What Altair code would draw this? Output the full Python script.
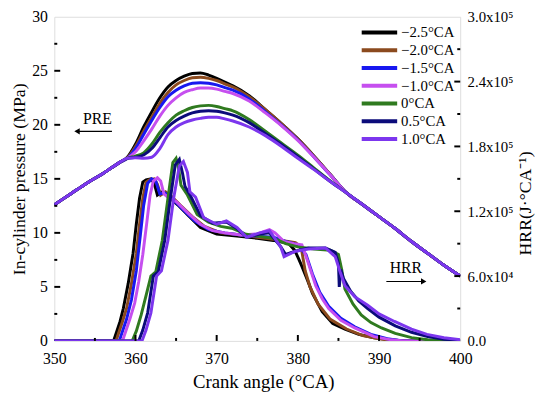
import altair as alt
import pandas as pd

FONT = "Liberation Serif"

SERIES = ["−2.5°CA", "−2.0°CA", "−1.5°CA", "−1.0°CA", "0°CA", "0.5°CA", "1.0°CA"]
COLORS = ["#000000", "#8B4A1E", "#1818F0", "#C64FEF", "#2F7A1F", "#0B0B7A", "#7C36EE"]

# ---- In-cylinder pressure (MPa) on a common crank-angle grid ----
P_CA = [350, 352, 354, 356, 357, 358, 359, 360, 361, 362, 363, 364, 365, 366, 367, 368, 369,
        370, 371, 372, 374, 376, 378, 380, 382, 384, 386, 388, 390, 392, 394, 396, 398, 400]
p_m25 = [12.6, 13.6, 14.6, 15.5, 16.0, 16.5, 17.0, 18.2, 19.8, 21.2, 22.5, 23.5, 24.1, 24.5, 24.75, 24.8, 24.6,
         24.3, 23.95, 23.6, 22.7, 21.4, 20.1, 18.7, 17.1, 15.4, 13.7, 12.6, 11.5, 10.4, 9.2, 8.1, 7.0, 6.0]
p_m20 = [12.6, 13.6, 14.6, 15.5, 16.0, 16.5, 16.95, 18.0, 19.4, 20.7, 22.0, 23.0, 23.7, 24.1, 24.35, 24.4, 24.3,
         24.1, 23.8, 23.5, 22.6, 21.4, 20.1, 18.7, 17.1, 15.4, 13.7, 12.6, 11.5, 10.4, 9.2, 8.1, 7.0, 6.0]
p_m15 = [12.6, 13.6, 14.6, 15.5, 16.0, 16.5, 16.9, 17.8, 19.1, 20.4, 21.6, 22.6, 23.2, 23.6, 23.85, 23.9, 23.85,
         23.7, 23.45, 23.2, 22.4, 21.2, 19.95, 18.6, 17.0, 15.35, 13.7, 12.6, 11.5, 10.4, 9.2, 8.1, 7.0, 6.0]
p_m10 = [12.6, 13.6, 14.6, 15.5, 16.0, 16.5, 16.9, 17.5, 18.5, 19.6, 20.8, 21.8, 22.5, 23.0, 23.25, 23.4, 23.4,
         23.3, 23.1, 22.9, 22.2, 21.1, 19.9, 18.55, 17.0, 15.35, 13.7, 12.6, 11.5, 10.4, 9.2, 8.1, 7.0, 6.0]
p_00 = [12.6, 13.6, 14.6, 15.5, 16.0, 16.5, 16.9, 17.1, 17.4, 18.2, 19.3, 20.2, 20.9, 21.3, 21.6, 21.75, 21.8,
        21.7, 21.5, 21.3, 20.5, 19.4, 18.3, 17.2, 16.0, 14.8, 13.7, 12.6, 11.5, 10.4, 9.2, 8.1, 7.0, 6.0]
p_p05 = [12.6, 13.6, 14.6, 15.5, 16.0, 16.5, 16.9, 17.0, 17.2, 17.8, 18.8, 19.8, 20.4, 20.8, 21.1, 21.25, 21.3,
         21.25, 21.1, 20.9, 20.2, 19.2, 18.15, 17.05, 15.9, 14.75, 13.7, 12.6, 11.5, 10.4, 9.2, 8.1, 7.0, 6.0]
p_p10 = [12.6, 13.6, 14.6, 15.5, 16.0, 16.5, 16.9, 16.95, 16.9, 17.0, 17.8, 19.1, 19.8, 20.2, 20.45, 20.6, 20.7,
         20.7, 20.55, 20.35, 19.8, 19.0, 18.0, 16.9, 15.85, 14.75, 13.7, 12.6, 11.5, 10.4, 9.2, 8.1, 7.0, 6.0]

# ---- Heat release rate (x10^4 J/°CA), each series on its own crank-angle points ----
h_ca_m25 = [350, 357.3, 357.7, 358.1, 358.5, 359.1, 359.7, 360.1, 360.5, 360.9, 361.3, 361.9, 362.3, 362.7, 363.3,
            364.0, 365.2, 366.5, 368.0, 370.0, 372.5, 375.0, 377.0, 378.9, 379.6, 380.1, 380.5, 381.2, 381.8,
            383.0, 384.3, 385.8, 387.5, 389.4, 391.5, 393.0, 400]
h_m25 = [0, 0, 0.9, 1.8, 3.0, 5.3, 8.1, 10.8, 13.2, 14.7, 14.9, 15.0, 14.6, 13.5, 13.8,
         13.4, 12.6, 11.6, 10.5, 9.9, 9.7, 9.5, 9.3, 9.0, 8.4, 7.6, 6.9, 5.6, 4.4,
         2.7, 1.6, 1.1, 0.6, 0.3, 0.1, 0, 0]
h_ca_m20 = [350, 357.6, 358.0, 358.4, 358.9, 359.5, 360.1, 360.5, 360.9, 361.3, 361.7, 362.3, 362.7, 363.1, 363.7,
            364.4, 365.6, 367.0, 368.5, 370.5, 373.0, 375.0, 377.0, 378.8, 379.7, 380.4, 380.9, 381.5, 382.5,
            384.0, 386.0, 388.0, 390.0, 392.0, 400]
h_m20 = [0, 0, 0.9, 1.8, 3.0, 5.3, 8.1, 10.8, 13.2, 14.7, 14.9, 15.0, 14.5, 13.5, 13.8,
         13.4, 12.5, 11.5, 10.6, 10.0, 9.8, 9.6, 9.4, 9.2, 9.1, 8.7, 6.5, 5.0, 3.4,
         2.0, 1.1, 0.5, 0.2, 0, 0]
h_ca_m15 = [350, 358.0, 358.4, 358.9, 359.5, 360.1, 360.6, 361.0, 361.5, 362.0, 362.5, 363.0, 363.6, 364.5, 365.8,
            367.3, 369.0, 371.0, 373.0, 375.0, 377.0, 378.5, 380.0, 381.0, 381.8, 382.7, 383.8, 385.3, 387.0,
            389.0, 391.0, 393.0, 400]
h_m15 = [0, 0, 0.9, 2.0, 3.8, 6.5, 9.8, 12.5, 14.6, 15.0, 14.8, 13.6, 13.7, 13.2, 12.2,
         11.1, 10.3, 10.0, 9.8, 9.7, 9.6, 9.2, 8.9, 8.0, 6.2, 4.5, 3.2, 2.1, 1.3,
         0.6, 0.2, 0, 0]
h_ca_m10 = [350, 358.4, 358.8, 359.3, 359.9, 360.4, 360.9, 361.4, 361.8, 362.2, 362.7, 363.1, 363.5, 364.0, 365.0,
            366.5, 368.0, 369.5, 371.0, 373.0, 375.0, 376.5, 377.2, 378.3, 379.5, 380.5, 381.2, 382.2, 383.0,
            383.8, 385.3, 387.0, 389.4, 391.5, 393.0, 400]
h_m10 = [0, 0, 0.9, 2.0, 3.5, 5.5, 8.0, 11.0, 13.5, 14.8, 15.1, 14.8, 13.6, 13.3, 12.9,
         11.8, 10.8, 10.2, 10.0, 9.8, 9.9, 10.3, 10.0, 9.2, 9.0, 8.9, 7.4, 5.1, 3.9,
         3.0, 1.9, 1.2, 0.4, 0.1, 0, 0]
h_ca_00 = [350, 359.6, 360.1, 360.7, 361.3, 361.9, 362.5, 363.3, 364.0, 364.6, 365.0, 365.3, 365.6, 366.4, 367.6,
           369.0, 370.5, 372.0, 373.5, 375.0, 377.0, 378.5, 380.0, 382.0, 384.0, 385.0, 385.4, 385.8, 386.8,
           387.8, 389.0, 390.3, 392.0, 394.0, 396.0, 398.0, 400]
h_00 = [0, 0, 0.9, 2.4, 4.2, 6.0, 6.4, 9.3, 13.2, 16.5, 16.9, 16.0, 14.4, 13.5, 11.7,
        11.0, 10.6, 10.4, 9.9, 9.7, 9.5, 9.0, 8.7, 8.5, 8.4, 8.0, 6.6, 4.8, 3.4,
        2.4, 1.7, 1.2, 0.7, 0.3, 0.1, 0, 0]
h_ca_p05 = [350, 360.4, 360.9, 361.5, 362.2, 362.8, 363.6, 364.3, 364.9, 365.4, 365.8, 366.1, 366.8, 368.0, 369.5,
            371.2, 372.5, 373.7, 375.3, 376.5, 377.9, 378.5, 379.7, 381.3, 383.4, 384.6, 385.0, 385.1, 385.3,
            385.6, 386.5, 387.5, 388.6, 390.0, 392.0, 394.0, 396.0, 398.0, 400]
h_p05 = [0, 0, 1.0, 2.6, 6.0, 6.4, 9.3, 13.2, 16.3, 16.8, 15.5, 14.3, 13.4, 11.6, 10.9,
         11.0, 10.4, 9.6, 9.9, 10.0, 8.7, 8.0, 8.3, 8.6, 8.6, 8.2, 7.2, 5.0, 6.6,
         5.8, 4.6, 3.7, 3.0, 2.2, 1.4, 0.8, 0.4, 0.15, 0.05]
h_ca_p10 = [350, 360.8, 361.3, 361.9, 362.6, 363.2, 364.0, 364.7, 365.4, 365.9, 366.2, 366.4, 366.7, 367.4, 368.4,
            370.0, 371.2, 372.5, 373.7, 375.3, 376.5, 377.9, 378.3, 379.7, 381.3, 383.4, 384.6, 385.2, 385.8,
            387.0, 388.6, 390.0, 391.9, 394.0, 395.9, 398.0, 400]
h_p10 = [0, 0, 1.0, 2.6, 6.0, 6.5, 9.3, 13.2, 16.2, 16.6, 16.0, 15.6, 13.8, 13.3, 11.4,
         10.8, 11.1, 10.5, 9.6, 10.0, 10.2, 8.7, 7.8, 8.3, 8.5, 8.6, 7.8, 6.4, 5.1,
         4.1, 3.3, 2.5, 1.8, 1.1, 0.6, 0.3, 0.1]

# ---- axis tick values ----
X_LABELS = [350, 360, 370, 380, 390, 400]
X_MINOR = [355, 365, 375, 385, 395]
X_MAJOR_IN = [360, 370, 380, 390]
P_LABELS = [0, 5, 10, 15, 20, 25, 30]
P_MAJOR_IN = [5, 10, 15, 20, 25]
P_MINOR = [2.5, 7.5, 12.5, 17.5, 22.5, 27.5]
H_LABELS = [0, 6, 12, 18, 24, 30]
H_MAJOR_IN = [6, 12, 18, 24]
H_MINOR = [3, 9, 15, 21, 27]

# ---- annotations (data units) ----
PRE_TEXT = {"x": 355.3, "y": 20.1, "t": "PRE"}
PRE_ARROW = {"x": 357.1, "x2": 352.8, "y": 19.4}
HRR_TEXT = {"x": 393.3, "y": 6.3, "t": "HRR"}
HRR_ARROW = {"x": 390.9, "x2": 395.5, "y": 5.5}

W, H = 412, 329

p_lists = [p_m25, p_m20, p_m15, p_m10, p_00, p_p05, p_p10]
h_cas = [h_ca_m25, h_ca_m20, h_ca_m15, h_ca_m10, h_ca_00, h_ca_p05, h_ca_p10]
h_lists = [h_m25, h_m20, h_m15, h_m10, h_00, h_p05, h_p10]

prows = []
for s, pl in zip(SERIES, p_lists):
    for ca, v in zip(P_CA, pl):
        prows.append({"ca": ca, "v": v, "s": s})
hrows = []
for s, cl, hl in zip(SERIES, h_cas, h_lists):
    for ca, v in zip(cl, hl):
        hrows.append({"ca": ca, "v": v, "s": s})
pdf = pd.DataFrame(prows)
hdf = pd.DataFrame(hrows)

xscale = alt.Scale(domain=[350, 400], nice=False)
xaxis = alt.Axis(values=X_LABELS, ticks=False, domain=False, grid=False, labelPadding=10,
                 labelFlush=False, labelFont=FONT, labelFontSize=16, labelColor="black",
                 title="Crank angle (°CA)", titleFont=FONT, titleFontSize=19, titleX=212,
                 titleFontWeight="normal", titleColor="black", titlePadding=6)


def xenc(field):
    return alt.X(field, type="quantitative", scale=xscale, axis=xaxis)


pscale = alt.Scale(domain=[0, 30], nice=False)
hscale = alt.Scale(domain=[0, 30], nice=False)

color = alt.Color("s:N", scale=alt.Scale(domain=SERIES, range=COLORS), sort=SERIES,
                  legend=alt.Legend(orient="none", legendX=322, legendY=8, title=None,
                                    symbolType="M-3,0H3", symbolStrokeWidth=4, symbolSize=144,
                                    labelFont=FONT, labelFontSize=15, labelColor="black",
                                    labelOffset=14, rowPadding=2, padding=0))

press = alt.Chart(pdf).mark_line(strokeWidth=3, interpolate="monotone", clip=True).encode(
    x=xenc("ca"),
    y=alt.Y("v:Q", scale=pscale,
            axis=alt.Axis(orient="left", values=P_LABELS, ticks=False, domain=False, grid=False,
                          labelPadding=7, labelFont=FONT, labelFontSize=16, labelColor="black",
                          title="In-cylinder pressure (MPa)", titleFont=FONT, titleFontSize=18,
                          titleFontWeight="normal", titleColor="black", titlePadding=3)),
    color=color,
    detail="s:N",
)

hrr = alt.Chart(hdf).mark_line(strokeWidth=3, clip=True).encode(
    x=xenc("ca"),
    y=alt.Y("v:Q", scale=hscale,
            axis=alt.Axis(orient="right", values=H_LABELS, ticks=False, domain=False, grid=False,
                          labelPadding=7, labelFont=FONT, labelFontSize=15, labelColor="black",
                          labelExpr="datum.value == 0 ? '0.0' : datum.value == 6 ? '6.0x10⁴' : "
                                    "datum.value == 12 ? '1.2x10⁵' : datum.value == 18 ? '1.8x10⁵' : "
                                    "datum.value == 24 ? '2.4x10⁵' : '3.0x10⁵'",
                          title="HRR(J·°CA⁻¹)", titleFont=FONT, titleFontSize=18, titleAngle=270,
                          titleY=189, titleFontWeight="normal", titleColor="black", titlePadding=22)),
    color=color,
    detail="s:N",
)


def vticks(vals, length):
    return alt.Chart(pd.DataFrame({"t": vals})).mark_rule(color="black", strokeWidth=2).encode(
        x=xenc("t"), y=alt.value(H), y2=alt.value(H - length))


def lticks(vals, length):
    return alt.Chart(pd.DataFrame({"t": vals})).mark_rule(color="black", strokeWidth=2).encode(
        y=alt.Y("t:Q", scale=pscale, axis=None), x=alt.value(0), x2=alt.value(length))


def rticks(vals, length):
    return alt.Chart(pd.DataFrame({"t": vals})).mark_rule(color="black", strokeWidth=2).encode(
        y=alt.Y("t:Q", scale=hscale, axis=None), x=alt.value(W), x2=alt.value(W - length))


texts = alt.Chart(pd.DataFrame([PRE_TEXT, HRR_TEXT])).mark_text(
    font=FONT, fontSize=16, color="black", align="center", baseline="alphabetic").encode(
    x=xenc("x"), y=alt.Y("y:Q", scale=pscale, axis=None), text="t:N")

arrows_df = pd.DataFrame([PRE_ARROW, HRR_ARROW])
arrow_lines = alt.Chart(arrows_df).mark_rule(color="black", strokeWidth=1.2).encode(
    x=xenc("x"), x2="x2:Q", y=alt.Y("y:Q", scale=pscale, axis=None))
head_l = alt.Chart(pd.DataFrame([PRE_ARROW])).mark_point(
    shape="triangle-left", filled=True, color="black", size=40, opacity=1).encode(
    x=xenc("x2"), y=alt.Y("y:Q", scale=pscale, axis=None))
head_r = alt.Chart(pd.DataFrame([HRR_ARROW])).mark_point(
    shape="triangle-right", filled=True, color="black", size=40, opacity=1).encode(
    x=xenc("x2"), y=alt.Y("y:Q", scale=pscale, axis=None))

chart = alt.layer(
    press, hrr,
    vticks(X_MAJOR_IN, 6), vticks(X_MINOR, 3),
    lticks(P_MAJOR_IN, 6), lticks(P_MINOR, 3),
    rticks(H_MAJOR_IN, 6), rticks(H_MINOR, 3),
    arrow_lines, head_l, head_r, texts,
).resolve_scale(y="independent").properties(
    width=W, height=H,
    autosize=alt.AutoSizeParams(type="none"),
    padding={"left": 47, "top": 6, "right": 83, "bottom": 52},
).configure_view(stroke="black", strokeWidth=3).configure(font=FONT)

chart.save("out.html", embed_options={"renderer": "svg", "actions": False})
